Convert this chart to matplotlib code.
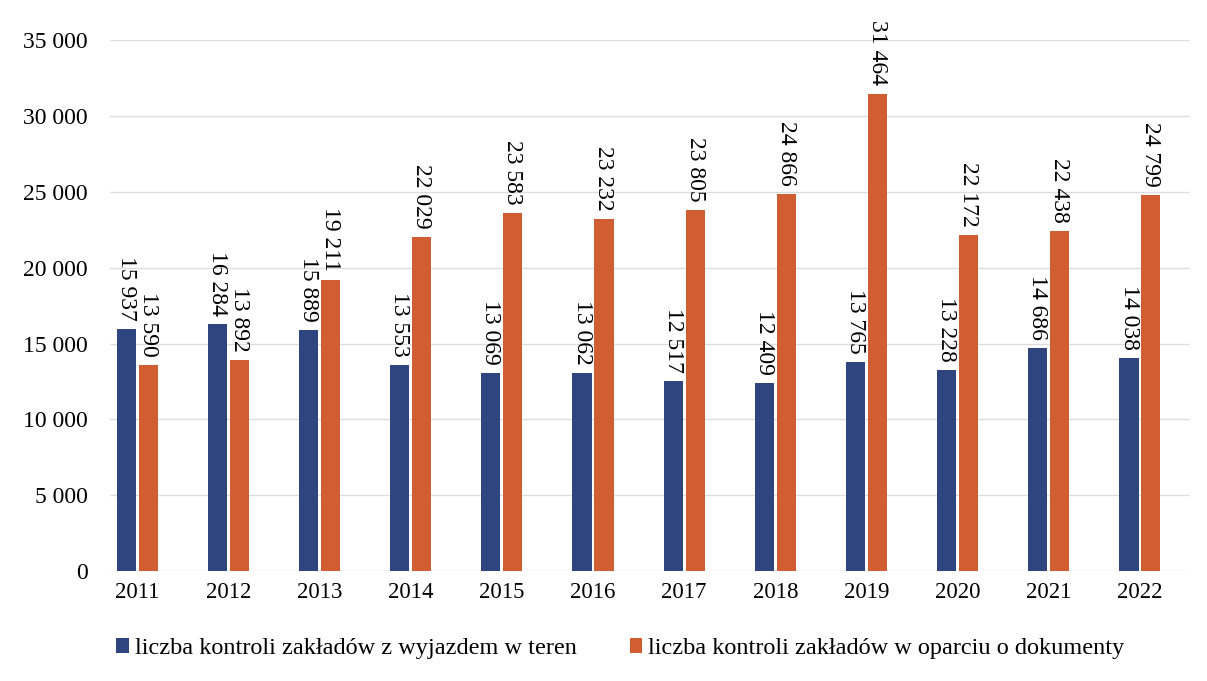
import matplotlib.pyplot as plt
import numpy as np

years = ["2011", "2012", "2013", "2014", "2015", "2016",
         "2017", "2018", "2019", "2020", "2021", "2022"]
field_controls = [15937, 16284, 15889, 13553, 13069, 13062,
                  12517, 12409, 13765, 13228, 14686, 14038]
document_controls = [13590, 13892, 19211, 22029, 23583, 23232,
                     23805, 24866, 31464, 22172, 22438, 24799]
series_names = ["liczba kontroli zakładów z wyjazdem w teren",
                "liczba kontroli zakładów w oparciu o dokumenty"]

plt.rcParams['font.family'] = ['Liberation Serif', 'DejaVu Serif']


def fmt(v):
    return f"{v:,}".replace(",", " ")


fig = plt.figure(figsize=(12.07, 6.81), dpi=100)
ax = fig.add_axes([0.091, 0.1615, 0.895, 0.7795])

x = np.arange(len(years))
w = 0.21
off = 0.12
b1 = ax.bar(x - off, field_controls, w, color='#2E4580', label=series_names[0], zorder=2)
b2 = ax.bar(x + off, document_controls, w, color='#D15D33', label=series_names[1], zorder=2)

# value labels, rotated, above each bar
for bars in (b1, b2):
    for bar in bars:
        h = bar.get_height()
        ax.annotate(fmt(int(h)), (bar.get_x() + bar.get_width() / 2, h),
                    xytext=(0, 6), textcoords='offset points',
                    ha='center', va='bottom', rotation=-90,
                    fontsize=17, annotation_clip=False)

ax.set_ylim(0, 35000)
ax.set_xlim(-0.3, 11.55)
ax.set_yticks(range(0, 35001, 5000))
ax.set_yticklabels([fmt(v) for v in range(0, 35001, 5000)], fontsize=17)
ax.set_xticks(x)
ax.set_xticklabels(years, fontsize=16.5)
ax.tick_params(length=0, pad=8)
ax.yaxis.set_tick_params(pad=16)
ax.grid(axis='y', color='#dddddd', linewidth=1, zorder=0)
for s in ax.spines.values():
    s.set_visible(False)

fig.legend(handles=[b1, b2], loc='center', bbox_to_anchor=(0.514, 0.048),
           ncol=2, frameon=False, fontsize=17.5, handlelength=0.5,
           handleheight=0.6, handletextpad=0.25, columnspacing=2.2)

plt.savefig("out.png", dpi=100)
plt.close()
